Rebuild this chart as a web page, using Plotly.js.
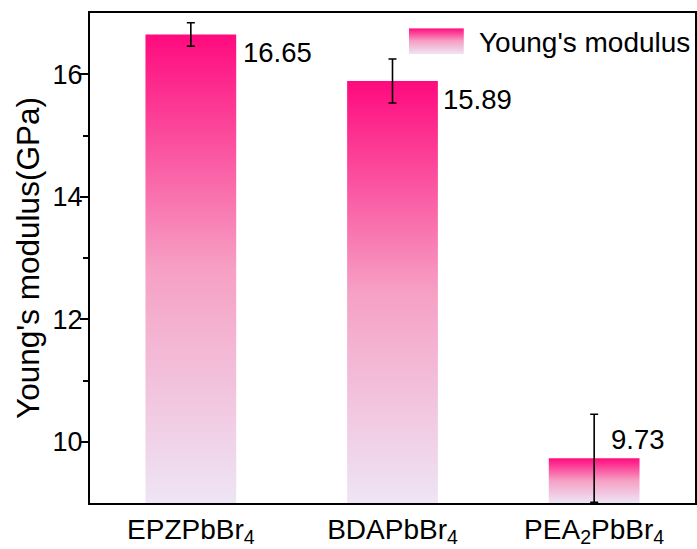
<!DOCTYPE html>
<html>
<head>
<meta charset="utf-8">
<script src="https://cdn.plot.ly/plotly-3.0.1.min.js"></script>
<style>
  html, body { margin: 0; padding: 0; background: #fff; }
  #chart { width: 697px; height: 549px; }
</style>
</head>
<body>
<div id="chart"></div>
<script>
// Young's modulus of three layered lead-bromide perovskites
const categories = ['EPZPbBr<sub>4</sub>', 'BDAPbBr<sub>4</sub>', 'PEA<sub>2</sub>PbBr<sub>4</sub>'];
const modulus = [16.65, 15.89, 9.73];      // GPa
const modulusErr = [0.19, 0.36, 0.72];     // GPa, ± error
const valueLabels = ['16.65', '15.89', '9.73'];
const seriesName = "Young's modulus";

const FONT = 'Liberation Sans, Arial, sans-serif';
const Y_MIN = 9, Y_MAX = 17;
const BAR_W = 0.45;
const gradient = [[0, '#EEE5F5'], [0.5, '#F6A0C4'], [1, '#FF0A7E']];

const traces = [];

// Each bar is a filled rectangle with a vertical gradient running from the
// axis floor up to the bar's value.
modulus.forEach((v, i) => {
  const x0 = i - BAR_W / 2, x1 = i + BAR_W / 2;
  traces.push({
    type: 'scatter',
    mode: 'lines',
    x: [x0, x1, x1, x0, x0],
    y: [Y_MIN, Y_MIN, v, v, Y_MIN],
    fill: 'toself',
    fillgradient: { type: 'vertical', colorscale: gradient },
    line: { width: 0, color: 'rgba(0,0,0,0)' },
    hoverinfo: 'skip',
    showlegend: false
  });
});

// Error bars sitting on the bar tops
traces.push({
  type: 'scatter',
  mode: 'markers',
  x: modulus.map((_, i) => i),
  y: modulus,
  marker: { size: 1, color: 'rgba(0,0,0,0)' },
  error_y: { type: 'data', array: modulusErr, visible: true, color: '#000', thickness: 1.6, width: 4 },
  name: seriesName,
  showlegend: false
});

// Value labels next to each bar
const labelShift = [[5, -18], [3, -19], [-31, 19]];
const annotations = modulus.map((v, i) => ({
  x: i + BAR_W / 2, y: v, xref: 'x', yref: 'y',
  text: valueLabels[i], showarrow: false,
  xanchor: 'left', yanchor: 'middle',
  xshift: labelShift[i][0], yshift: labelShift[i][1],
  font: { family: FONT, size: 27.5, color: '#000' }
}));

// Legend entry: gradient swatch plus its label
annotations.push({
  x: 0.64, y: 0.94, xref: 'paper', yref: 'paper',
  text: seriesName, showarrow: false,
  xanchor: 'left', yanchor: 'middle',
  font: { family: FONT, size: 28, color: '#000' }
});

const swatchSvg =
  '<svg xmlns="http://www.w3.org/2000/svg" width="55" height="26">' +
  '<defs><linearGradient id="g" x1="0" y1="0" x2="0" y2="1">' +
  '<stop offset="0" stop-color="#FF0A7E"/><stop offset="0.5" stop-color="#F6A0C4"/>' +
  '<stop offset="1" stop-color="#EEE5F5"/></linearGradient></defs>' +
  '<rect width="55" height="26" fill="url(#g)"/></svg>';

const layout = {
  width: 697, height: 549,
  margin: { l: 90, r: 2, t: 13, b: 46 },
  paper_bgcolor: '#fff', plot_bgcolor: '#fff',
  showlegend: false,
  font: { family: FONT, color: '#000' },
  xaxis: {
    range: [-0.5, 2.5],
    tickvals: modulus.map((_, i) => i),
    ticktext: categories,
    ticks: '',
    showgrid: false, zeroline: false,
    showline: true, linecolor: '#000', linewidth: 2, mirror: true,
    tickfont: { family: FONT, size: 28, color: '#000' },
    ticklabelstandoff: 0
  },
  yaxis: {
    range: [Y_MIN, Y_MAX],
    tickvals: [10, 12, 14, 16],
    ticks: 'outside', ticklen: 8, tickwidth: 2, tickcolor: '#000',
    minor: { tickvals: [11, 13, 15], ticks: 'outside', ticklen: 5, tickwidth: 2, tickcolor: '#000' },
    showgrid: false, zeroline: false,
    showline: true, linecolor: '#000', linewidth: 2, mirror: true,
    tickfont: { family: FONT, size: 27, color: '#000' },
    ticklabelstandoff: -8,
    title: { text: "Young's modulus(GPa)", font: { family: FONT, size: 31.5, color: '#000' }, standoff: 4 }
  },
  annotations: annotations,
  images: [{
    source: 'data:image/svg+xml;base64,' + btoa(swatchSvg),
    xref: 'paper', yref: 'paper',
    x: 0.527, y: 0.969, sizex: 0.091, sizey: 0.053,
    sizing: 'stretch', xanchor: 'left', yanchor: 'top', layer: 'above'
  }]
};

Plotly.newPlot('chart', traces, layout, { displayModeBar: false, staticPlot: true });
</script>
</body>
</html>
